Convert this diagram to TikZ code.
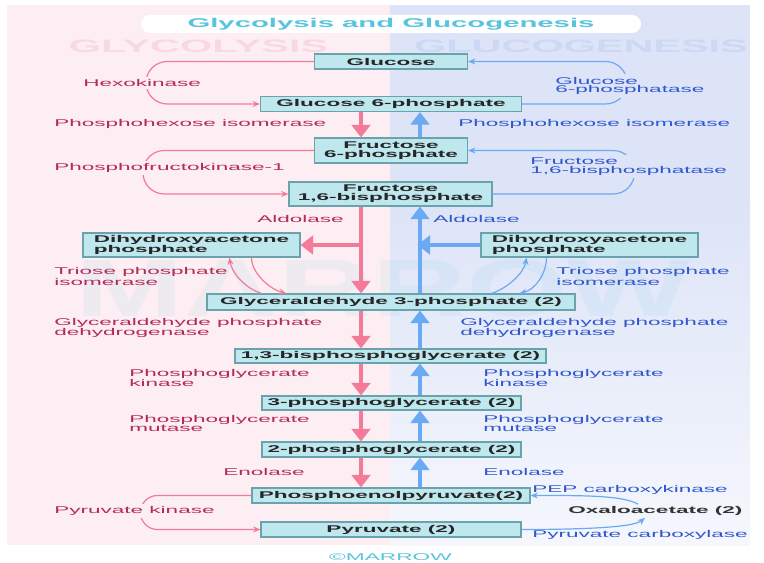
\documentclass[tikz,border=0pt]{standalone}
\usepackage{fontspec}
\setmainfont{Liberation Sans}[FakeStretch=2.3]
\newfontfamily\markfont{Liberation Sans}[FakeStretch=1.6]
\usepackage{xcolor}
\usepackage{tikz}
\usetikzlibrary{arrows.meta,calc}

\definecolor{pinkbg}{HTML}{FCEEF2}
\definecolor{bluebg}{HTML}{DDE4F7}
\definecolor{bluebot}{HTML}{F5F7FD}
\definecolor{pinkline}{HTML}{F47A9A}
\definecolor{blueline}{HTML}{6AAAF4}
\definecolor{pinktxt}{HTML}{B52B56}
\definecolor{bluetxt}{HTML}{3157CF}
\definecolor{boxfill}{HTML}{BEE7EE}
\definecolor{boxdraw}{HTML}{6AA3AC}
\definecolor{titlecol}{HTML}{58C4DD}
\definecolor{pinkmark}{HTML}{F9D9E1}
\definecolor{bluemark}{HTML}{CCD8F4}
\definecolor{marrowmark}{HTML}{5EC2E6}

\begin{document}
\begin{tikzpicture}[x=0.75pt,y=-0.75pt,>={Stealth[length=5.5pt,width=4.5pt]},
    box/.style={draw=boxdraw,line width=0.8pt,fill=boxfill,text=black!85,inner sep=0pt,
        align=center,font=\bfseries\fontsize{7.35}{6.6}\selectfont},
    glylab/.style={text=pinktxt,anchor=west,inner sep=0pt,align=left,
        font=\fontsize{7.35}{6.6}\selectfont},
    glulab/.style={glylab,text=bluetxt},
    glyarc/.style={pinkline,line width=0.9pt,rounded corners=16pt,->},
    gluarc/.style={blueline,line width=0.9pt,rounded corners=16pt,->},
    glyarrow/.style={pinkline,line width=3.6pt,-{Triangle[width=14pt,length=9.5pt]}},
    gluarrow/.style={blueline,line width=3.6pt,-{Triangle[width=14pt,length=9.5pt]}}]
    \useasboundingbox (0,0) rectangle (764,563);

    % 背景
    \fill[pinkbg] (7,5) rectangle (390,545);
    \fill[bluebg] (390,5) rectangle (750,200);
    \shade[top color=bluebg,bottom color=bluebot] (390,199.5) rectangle (750,545);

    % 水印
    \node[text=pinkmark,font=\bfseries\fontsize{13.5}{15}\selectfont] (wmgly) at (198.5,46) {GLYCOLYSIS};
    \node[text=bluemark,font=\bfseries\fontsize{13.5}{15}\selectfont] (wmglu) at (581,46) {GLUCOGENESIS};
    \node[text=marrowmark,opacity=0.09,font=\markfont\bfseries\fontsize{61}{61}\selectfont] (wmmar) at (383,289) {MARROW};

    % 标题
    \fill[white,rounded corners=6.75pt] (141,15) rectangle (641,33);
    \node[text=titlecol,font=\bfseries\fontsize{9.55}{11}\selectfont] (title) at (391,24) {Glycolysis and Glucogenesis};

    % 竖直位置
    \coordinate (xgly) at (361,0);
    \coordinate (xglu) at (420,0);

    % 方框
    \node[box,minimum width=153*0.75pt,minimum height=15*0.75pt] (glc) at (391,61.5) {Glucose};
    \node[box,minimum width=261*0.75pt,minimum height=15*0.75pt] (g6p) at (391,104) {Glucose 6-phosphate};
    \node[box,minimum width=153*0.75pt,minimum height=25*0.75pt] (f6p) at (391,150.5) {Fructose\\6-phosphate};
    \node[box,minimum width=203*0.75pt,minimum height=24*0.75pt] (f16) at (390.5,194) {Fructose\\1,6-bisphosphate};
    \node[box,align=left,minimum width=217*0.75pt,minimum height=24*0.75pt] (dhapL) at (191.5,245) {Dihydroxyacetone\\phosphate};
    \node[box,align=left,minimum width=217*0.75pt,minimum height=24*0.75pt] (dhapR) at (589.5,245) {Dihydroxyacetone\\phosphate};
    \node[box,minimum width=368*0.75pt,minimum height=16*0.75pt] (g3p) at (391,302) {Glyceraldehyde 3-phosphate (2)};
    \node[box,minimum width=311*0.75pt,minimum height=14*0.75pt] (bpg) at (390.5,356) {1,3-bisphosphoglycerate (2)};
    \node[box,minimum width=259*0.75pt,minimum height=14*0.75pt] (pg3) at (391.5,403) {3-phosphoglycerate (2)};
    \node[box,minimum width=259*0.75pt,minimum height=15*0.75pt] (pg2) at (391.5,449.5) {2-phosphoglycerate (2)};
    \node[box,minimum width=278*0.75pt,minimum height=15*0.75pt] (pep) at (391,495.5) {Phosphoenolpyruvate(2)};
    \node[box,minimum width=260*0.75pt,minimum height=15*0.75pt] (pyr) at (391,529.5) {Pyruvate (2)};

    % 旁路弧线
    \draw[glyarc] (glc.west) -- ++(-168,0) |- (g6p.west);
    \draw[gluarc] (g6p.east) -- ++(105,0) |- (glc.east);
    \draw[glyarc] (f6p.west) -- ++(-171,0) |- (f16.west);
    \draw[gluarc] (f16.east) -- ++(142,0) |- (f6p.east);
    \draw[glyarc,rounded corners=12.75pt] (pep.west) -- ++(-111,0) |- (pyr.west);

    % 酶（糖酵解）
    \node[glylab,fill=pinkbg,inner ysep=2pt] (hexo) at (83,83) {Hexokinase};
    \node[glylab] (phiL) at (54,124) {Phosphohexose isomerase};
    \node[glylab,fill=pinkbg,inner ysep=2pt] (pfk) at (54,168) {Phosphofructokinase-1};
    \node[glylab] (aldL) at (257,219) {Aldolase};
    \node[glylab] (tpiL) at (54,276.5) {Triose phosphate\\isomerase};
    \node[glylab] (gapdhL) at (54,328) {Glyceraldehyde phosphate\\dehydrogenase};
    \node[glylab] (pgkL) at (129,378) {Phosphoglycerate\\kinase};
    \node[glylab] (pgmL) at (129,423.5) {Phosphoglycerate\\mutase};
    \node[glylab] (enoL) at (223,472) {Enolase};
    \node[glylab,fill=pinkbg,inner ysep=2pt] (pkin) at (54,511) {Pyruvate kinase};

    % 酶（糖异生）
    \node[glulab,fill=bluebg,inner ysep=2pt] (g6pase) at (555,86) {Glucose\\6-phosphatase};
    \node[glulab] (phiR) at (458,124) {Phosphohexose isomerase};
    \node[glulab,fill=bluebg,inner ysep=2pt] (fbpase) at (530,166.5) {Fructose\\1,6-bisphosphatase};
    \node[glulab] (aldR) at (433,219) {Aldolase};
    \node[glulab] (tpiR) at (556,276.5) {Triose phosphate\\isomerase};
    \node[glulab] (gapdhR) at (460,328) {Glyceraldehyde phosphate\\dehydrogenase};
    \node[glulab] (pgkR) at (483,378) {Phosphoglycerate\\kinase};
    \node[glulab] (pgmR) at (483,423.5) {Phosphoglycerate\\mutase};
    \node[glulab] (enoR) at (483,472) {Enolase};
    \node[glulab] (pepck) at (532,490) {PEP carboxykinase};
    \node[glulab] (pcarb) at (532,535) {Pyruvate carboxylase};
    \node[glylab,text=black!80,font=\bfseries\fontsize{7.35}{6.6}\selectfont] (oaa) at (568,511) {Oxaloacetate (2)};

    % 草酰乙酸
    \draw[gluarc] (pyr.east) .. controls +(55,0) and +(-12,10) .. ($(oaa.south west)+(77,2)$);
    \draw[gluarc] ($(oaa.north west)+(70,-2)$) .. controls +(-15,-9) and +(50,0) .. (pep.east);

    % 磷酸丙糖异构酶
    \draw[glyarc] ($(g3p.north west)+(55,0)$) .. controls +(-18,-6) and +(2,14) .. ($(dhapL.south west)+(147,0)$);
    \draw[glyarc] ($(dhapL.south west)+(169,0)$) .. controls +(0,16) and +(-16,-4) .. ($(g3p.north west)+(80,0)$);
    \draw[gluarc] ($(g3p.north west)+(285,0)$) .. controls +(18,-6) and +(-2,14) .. ($(dhapR.south west)+(46,0)$);
    \draw[gluarc] ($(dhapR.south west)+(66,0)$) .. controls +(0,16) and +(16,-4) .. ($(g3p.north west)+(313,0)$);

    % 主干箭头
    \draw[glyarrow] (g6p.south -| xgly) -- (f6p.north -| xgly);
    \draw[glyarrow] (f16.south -| xgly) -- (g3p.north -| xgly);
    \draw[glyarrow] (dhapL.east -| xgly) -- (dhapL.east);
    \draw[glyarrow] (g3p.south -| xgly) -- (bpg.north -| xgly);
    \draw[glyarrow] (bpg.south -| xgly) -- (pg3.north -| xgly);
    \draw[glyarrow] (pg3.south -| xgly) -- (pg2.north -| xgly);
    \draw[glyarrow] (pg2.south -| xgly) -- (pep.north -| xgly);

    \draw[gluarrow] (f6p.north -| xglu) -- (g6p.south -| xglu);
    \draw[gluarrow] (g3p.north -| xglu) -- (f16.south -| xglu);
    \draw[gluarrow,shorten >=-2pt] (dhapR.west) -- (dhapR.west -| xglu);
    \draw[gluarrow] (bpg.north -| xglu) -- (g3p.south -| xglu);
    \draw[gluarrow] (pg3.north -| xglu) -- (bpg.south -| xglu);
    \draw[gluarrow] (pg2.north -| xglu) -- (pg3.south -| xglu);
    \draw[gluarrow] (pep.north -| xglu) -- (pg2.south -| xglu);

    % 版权
    \node[text=titlecol,font=\fontsize{7.4}{9}\selectfont] (copy) at (390.5,557) {©MARROW};

\end{tikzpicture}
\end{document}
